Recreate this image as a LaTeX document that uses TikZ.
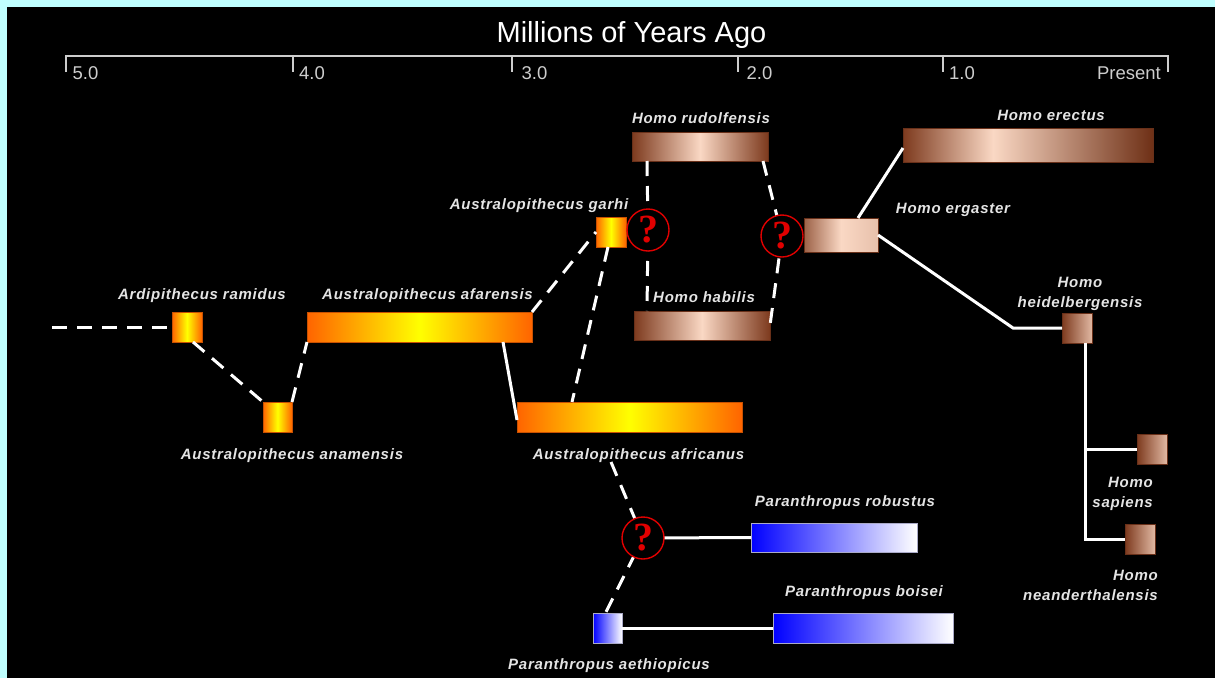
\documentclass[tikz,border=0pt]{standalone}
\usepackage{fontspec}
\setmainfont{Liberation Sans}
\newfontfamily\lblfont[LetterSpace=5]{Liberation Sans}
\newfontfamily\qfont{Liberation Serif}
\definecolor{cyanbg}{RGB}{192,255,255}
\definecolor{axc}{RGB}{205,205,205}
\definecolor{lblc}{RGB}{228,228,228}
\definecolor{orng}{RGB}{255,100,0}
\definecolor{yel}{RGB}{255,255,0}
\definecolor{oborder}{RGB}{200,80,0}
\definecolor{brd}{RGB}{125,58,30}
\definecolor{brd2}{RGB}{110,48,22}
\definecolor{brl}{RGB}{250,216,196}
\definecolor{bborder}{RGB}{105,48,25}
\definecolor{blu}{RGB}{0,0,255}
\definecolor{uborder}{RGB}{170,170,200}
\definecolor{qred}{RGB}{225,0,0}
\pgfdeclarehorizontalshading{erectusshade}{100bp}{color(0bp)=(brd); color(25bp)=(brd); color(43bp)=(brl); color(75bp)=(brd2); color(100bp)=(brd2)}
\begin{document}
\begin{tikzpicture}[x=1pt,y=-1pt,
  boxbase/.style={inner sep=0pt, outer sep=0pt, line width=0.8pt},
  obox/.style={boxbase, draw=oborder, left color=orng, right color=orng, middle color=yel},
  bbox/.style={boxbase, draw=bborder, left color=brd, right color=brd, middle color=brl},
  ubox/.style={boxbase, draw=uborder, left color=blu, right color=white},
  lbl/.style={text=lblc, inner sep=0pt, font=\lblfont\bfseries\itshape\fontsize{15}{20}\selectfont},
  ticklbl/.style={text=axc, inner sep=0pt, font=\fontsize{18.5}{20}\selectfont},
  axisline/.style={draw=axc, line width=2.8pt},
  solidlink/.style={draw=white, line width=3pt},
  dashlink/.style={draw=white, line width=3pt, dash pattern=on 15pt off 10pt},
  qmark/.style={circle, draw=qred, line width=1.4pt, fill=black, minimum size=42pt, inner sep=0pt, text=qred, font=\qfont\bfseries\fontsize{40}{40}\selectfont}
]
\useasboundingbox (0,0) rectangle (1215,678);
\fill[cyanbg] (0,0) rectangle (1215,678);
\fill[black] (7,7) rectangle (1215,678);

% title and axis
\node[text=white, inner sep=0pt, anchor=base, font=\fontsize{29}{30}\selectfont] (title) at (631.5,42.7) {Millions of Years Ago};
\coordinate (t5) at (66,56);
\coordinate (t4) at (293,56);
\coordinate (t3) at (512,56);
\coordinate (t2) at (738,56);
\coordinate (t1) at (943,56);
\coordinate (t0) at (1168,56);
\draw[axisline] ([yshift=-16pt]t5) -- (t5) -- (t0) -- ([yshift=-16pt]t0);
\draw[axisline] (t4) -- ++(0,16);
\draw[axisline] (t3) -- ++(0,16);
\draw[axisline] (t2) -- ++(0,16);
\draw[axisline] (t1) -- ++(0,16);
\node[ticklbl, anchor=base west] (l5) at (72.5,79) {5.0};
\node[ticklbl, anchor=base west] (l4) at (299,79) {4.0};
\node[ticklbl, anchor=base west] (l3) at (521.5,79) {3.0};
\node[ticklbl, anchor=base west] (l2) at (746.5,79) {2.0};
\node[ticklbl, anchor=base west] (l1) at (949,79) {1.0};
\node[ticklbl, anchor=base east] (l0) at (1161,79) {Present};

% boxes
\node[obox, minimum width=30, minimum height=30] (ram) at (187,327) {};
\node[obox, minimum width=29, minimum height=30] (ana) at (277.5,417) {};
\node[obox, minimum width=225, minimum height=30] (afa) at (419.5,327) {};
\node[obox, minimum width=225, minimum height=30] (afr) at (629.5,417) {};
\node[obox, minimum width=30, minimum height=30] (gar) at (611,232) {};
\node[bbox, minimum width=136, minimum height=29] (rud) at (700,146.5) {};
\node[bbox, minimum width=136, minimum height=29] (hab) at (702,325.5) {};
\node[bbox, left color=brd!75!brl, right color=brl!85!brd, middle color=brl, minimum width=74, minimum height=34] (erg) at (841,235) {};
\node[boxbase, draw=bborder, shade, shading=erectusshade, minimum width=250, minimum height=34] (ere) at (1028,145) {};
\node[bbox, right color=brl!80!brd, minimum width=30, minimum height=30] (hei) at (1077,328) {};
\node[bbox, right color=brl!80!brd, minimum width=30, minimum height=30] (sap) at (1152,449) {};
\node[bbox, right color=brl!80!brd, minimum width=30, minimum height=30] (nea) at (1140,539) {};
\node[ubox, minimum width=166, minimum height=29] (rob) at (834,537.5) {};
\node[ubox, minimum width=180, minimum height=30] (boi) at (863,628) {};
\node[ubox, minimum width=29, minimum height=30] (aet) at (607.5,628) {};

% labels
\node[lbl, anchor=base] (lram) at (202,299) {Ardipithecus ramidus};
\node[lbl, anchor=base] (lana) at (292,459) {Australopithecus anamensis};
\node[lbl, anchor=base] (lafa) at (427.5,299) {Australopithecus afarensis};
\node[lbl, anchor=base] (lafr) at (638.5,459) {Australopithecus africanus};
\node[lbl, anchor=base] (lgar) at (539,209) {Australopithecus garhi};
\node[lbl, anchor=base] (lrud) at (701,123) {Homo rudolfensis};
\node[lbl, anchor=base] (lhab) at (704,302) {Homo habilis};
\node[lbl, anchor=base] (lere) at (1051,120) {Homo erectus};
\node[lbl, anchor=base] (lerg) at (953,213) {Homo ergaster};
\node[lbl, align=center] (lhei) at (1080,293.5) {Homo\\heidelbergensis};
\node[lbl, align=right, anchor=east] (lsap) at (1153,494.3) {Homo\\sapiens};
\node[lbl, align=right, anchor=east] (lnea) at (1158,585.7) {Homo\\neanderthalensis};
\node[lbl, anchor=base] (lrob) at (845,506) {Paranthropus robustus};
\node[lbl, anchor=base] (lboi) at (864,596) {Paranthropus boisei};
\node[lbl, anchor=base] (laet) at (609,669) {Paranthropus aethiopicus};

% free ends
\coordinate (ramtail) at (52,327);
\coordinate (afrtail) at (611,462);
\coordinate (bend) at (1013,328);
\coordinate (hstem) at ([xshift=8pt]hei.south);

% question mark positions
\coordinate (q1c) at (648,230);
\coordinate (q2c) at (782,236);
\coordinate (q3c) at (643,538);

% connectors
\draw[dashlink] (ramtail) -- (ram.west);
\draw[dashlink] ([xshift=6pt]ram.south) -- (ana.north west);
\draw[dashlink] (ana.north east) -- (afa.south west);
\draw[dashlink] (afa.north east) -- (gar.west);
\draw[solidlink] ([xshift=-29pt]afa.south east) -- ([yshift=-3pt]afr.west);
\draw[dashlink] ([xshift=-3pt]gar.south) -- ([xshift=-57.5pt]afr.north);
\draw[dashlink] ([xshift=15pt]rud.south west) -- (q1c) -- ([xshift=13pt]hab.north west);
\draw[dashlink] ([xshift=-5pt]rud.south east) -- (q2c) -- (hab.east);
\draw[solidlink] ([xshift=17pt]erg.north) -- ([yshift=-3pt]ere.west);
\draw[solidlink] (erg.east) -- (bend) -- (hei.west);
\draw[solidlink] (hstem) |- (nea.west);
\draw[solidlink] (hstem |- sap.west) -- (sap.west);
\draw[dashlink] (afrtail) -- (q3c) -- ([xshift=-2pt]aet.north);
\draw[solidlink] (q3c) -- (rob.west);
\draw[solidlink] (aet.east) -- (boi.west);

% question mark circles
\node[qmark] (q1) at (q1c) {?};
\node[qmark] (q2) at (q2c) {?};
\node[qmark] (q3) at (q3c) {?};
\end{tikzpicture}
\end{document}
